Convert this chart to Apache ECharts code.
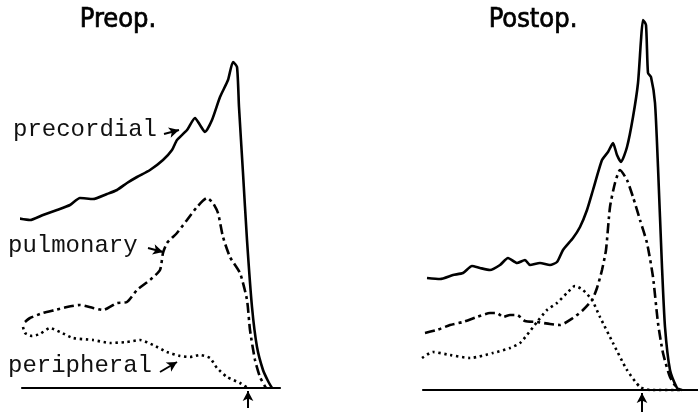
<!DOCTYPE html>
<html>
<head>
<meta charset="utf-8">
<script src="https://cdn.jsdelivr.net/npm/echarts@6/dist/echarts.min.js"></script>
<style>html,body{margin:0;padding:0;background:#fff;}#c{width:698px;height:413px;}</style>
</head>
<body>
<div id="c"></div>
<script>
// Preop. panel (arbitrary units: x = time, y = count)
const preopPrecordial = [[-5,170],[8,168],[21,173],[35,178],[48,183],[58,190],[71,189],[85,194],[95,198],[105,205],[115,211],[128,218],[141,228],[150,238],[155,248],[165,258],[173,270],[178,263],[183,256],[190,268],[198,291],[206,308],[211,326],[215,321],[217,281],[221,215],[225,148],[230,81],[235,41],[241,18],[246,7],[250,0]];
const preopPulmonary = [[3,66],[8,70],[21,75],[33,78],[45,81],[58,83],[71,80],[81,78],[95,85],[105,86],[115,98],[128,108],[138,118],[141,135],[145,145],[155,155],[165,168],[175,181],[185,190],[191,185],[196,175],[201,151],[208,131],[218,115],[225,88],[228,58],[233,28],[238,11],[244,0]];
const preopPeripheral = [[1,61],[3,55],[10,52],[18,54],[28,60],[38,56],[51,50],[71,48],[88,45],[105,46],[118,48],[131,43],[145,36],[158,32],[168,31],[178,33],[188,30],[195,20],[205,11],[218,5],[226,0]];
// Postop. panel
const postopPrecordial = [[4,112],[17,111],[30,115],[40,117],[49,124],[57,122],[67,120],[77,125],[85,132],[94,127],[102,130],[107,125],[117,127],[127,125],[134,128],[140,140],[150,152],[157,163],[164,180],[170,200],[179,230],[185,238],[190,247],[194,235],[198,228],[204,243],[210,273],[215,307],[218,350],[220,370],[223,365],[225,317],[228,313],[232,287],[235,223],[239,123],[242,63],[247,20],[254,2],[257,0]];
const postopPulmonary = [[2,57],[14,60],[27,65],[40,68],[54,73],[67,77],[74,77],[80,73],[87,75],[94,75],[102,69],[114,68],[127,66],[137,65],[150,72],[160,80],[169,90],[174,102],[179,120],[183,140],[187,183],[192,207],[197,220],[204,210],[210,193],[217,170],[224,147],[230,113],[235,67],[240,37],[247,13],[254,2],[259,0]];
const postopPeripheral = [[-1,32],[10,38],[27,35],[47,32],[70,37],[87,42],[97,47],[104,55],[114,68],[124,80],[134,87],[144,97],[152,104],[160,100],[169,90],[177,73],[190,47],[204,20],[217,3],[227,0],[257,0]];
// markers
const preopMarkerX = 226;
const postopMarkerX = 219;
const labelArrowsPreop = [[[142,254],[157,258]],[[126,140],[141,136]],[[138,16],[155,26]]];
const panelTitles = ['Preop.', 'Postop.'];
const curveLabels = ['precordial', 'pulmonary', 'peripheral'];

const chart = echarts.init(document.getElementById('c'), null, {renderer: 'canvas'});
const solid = {color: '#000', width: 2.6, type: 'solid', join: 'round'};
const dashDot = {color: '#000', width: 2.6, type: [10, 4, 3, 4]};
const dotted = {color: '#000', width: 2.6, type: [2.4, 3.6]};
function ser(data, idx, ls, extra) {
  return Object.assign({
    type: 'line', data: data, xAxisIndex: idx, yAxisIndex: idx,
    showSymbol: false, symbol: 'none', smooth: 0.2, clip: false,
    lineStyle: ls, silent: true, animation: false
  }, extra || {});
}
function arrowLines(pairs) {
  return {
    silent: true, animation: false, symbol: ['none', 'arrow'], symbolSize: [8, 10],
    label: {show: false},
    lineStyle: {color: '#000', width: 2, type: 'solid'},
    emphasis: {disabled: true},
    data: pairs.map(p => [{coord: p[0]}, {coord: p[1]}])
  };
}
const axisX = (g, max) => ({
  type: 'value', gridIndex: g, min: 0, max: max, show: true,
  axisLine: {show: true, onZero: true, lineStyle: {color: '#000', width: 2.2}},
  axisTick: {show: false}, axisLabel: {show: false}, splitLine: {show: false}
});
const axisY = (g, min) => ({type: 'value', gridIndex: g, min: min, max: 370, show: false, splitLine: {show: false}});

chart.setOption({
  backgroundColor: '#fff',
  animation: false,
  grid: [
    {left: 22, width: 258, top: 18, bottom: 0},
    {left: 423, width: 275, top: 20, bottom: 0}
  ],
  xAxis: [axisX(0, 258), axisX(1, 275)],
  yAxis: [axisY(0, -25), axisY(1, -23)],
  series: [
    ser(preopPrecordial, 0, solid, {markLine: arrowLines(labelArrowsPreop.concat([[[preopMarkerX,-20],[preopMarkerX,-3]]]))}),
    ser(preopPulmonary, 0, dashDot),
    ser(preopPeripheral, 0, dotted),
    ser(postopPrecordial, 1, solid, {markLine: arrowLines([[[postopMarkerX,-22],[postopMarkerX,-3]]])}),
    ser(postopPulmonary, 1, dashDot),
    ser(postopPeripheral, 1, dotted)
  ],
  graphic: [
    {type: 'text', x: 118, y: 20, style: {text: panelTitles[0], font: '500 27px "DejaVu Sans Condensed", "Liberation Sans Narrow", "DejaVu Sans", sans-serif', fill: '#000', stroke: '#000', lineWidth: 0.7, textAlign: 'center', textVerticalAlign: 'middle'}},
    {type: 'text', x: 533, y: 20, style: {text: panelTitles[1], font: '500 27px "DejaVu Sans Condensed", "Liberation Sans Narrow", "DejaVu Sans", sans-serif', fill: '#000', stroke: '#000', lineWidth: 0.7, textAlign: 'center', textVerticalAlign: 'middle'}},
    {type: 'text', x: 13, y: 130, style: {text: curveLabels[0], font: '24px "Liberation Mono", "DejaVu Sans Mono", monospace', fill: '#111', textAlign: 'left', textVerticalAlign: 'middle'}},
    {type: 'text', x: 8, y: 246, style: {text: curveLabels[1], font: '24px "Liberation Mono", "DejaVu Sans Mono", monospace', fill: '#111', textAlign: 'left', textVerticalAlign: 'middle'}},
    {type: 'text', x: 8, y: 366, style: {text: curveLabels[2], font: '24px "Liberation Mono", "DejaVu Sans Mono", monospace', fill: '#111', textAlign: 'left', textVerticalAlign: 'middle'}}
  ]
});
</script>
</body>
</html>
